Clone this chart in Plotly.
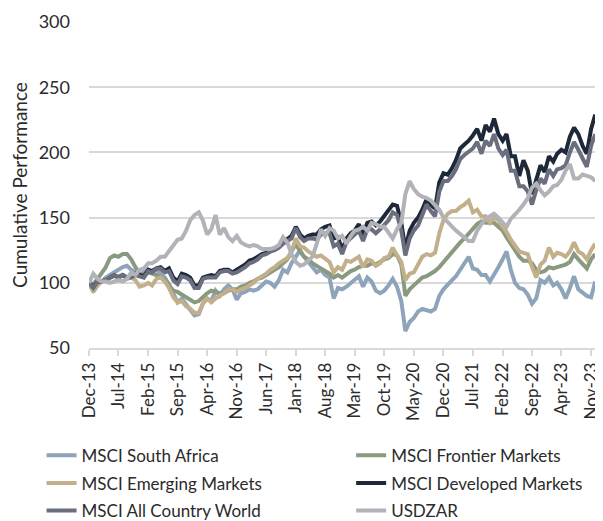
import pandas as pd
import plotly.graph_objects as go

dates = pd.date_range("2013-12-01", periods=121, freq="MS")

tick_labels = ["Dec-13", "Jul-14", "Feb-15", "Sep-15", "Apr-16", "Nov-16", "Jun-17", "Jan-18",
               "Aug-18", "Mar-19", "Oct-19", "May-20", "Dec-20", "Jul-21", "Feb-22", "Sep-22",
               "Apr-23", "Nov-23"]
tick_dates = pd.date_range("2013-12-01", periods=18, freq="7MS")

msci_sa = [100,
    93, 98, 101, 104, 106, 108, 110, 112, 113, 110, 108, 106,
    108, 110, 108, 110, 107, 104, 99, 92, 85, 88, 84, 79,
    75, 76, 84, 88, 86, 94, 90, 95, 98, 95, 87, 92,
    93, 95, 94, 95, 98, 101, 100, 97, 102, 110, 108, 115,
    120, 125, 120, 116, 112, 108, 110, 106, 104, 88, 96, 95,
    97, 100, 102, 105, 97, 104, 101, 94, 92, 94, 98, 103,
    97, 86, 63, 70, 73, 78, 80, 79, 78, 80, 90, 95,
    98, 102, 105, 110, 116, 120, 111, 110, 106, 106, 101, 106,
    112, 118, 124, 110, 100, 96, 95, 91, 84, 88, 102, 100,
    104, 98, 100, 95, 88, 96, 105, 95, 92, 90, 89, 101]

msci_fm = [100,
    99, 103, 107, 112, 119, 121, 120, 122, 122, 118, 112, 107,
    106, 108, 107, 106, 104, 102, 98, 94, 93, 91, 89, 87,
    85, 86, 89, 92, 94, 93, 92, 92, 94, 95, 95, 97,
    98, 100, 101, 103, 104, 106, 108, 110, 112, 115, 118, 124,
    130, 124, 120, 118, 115, 113, 111, 109, 107, 104, 106, 104,
    107, 109, 110, 112, 113, 113, 115, 114, 116, 118, 119, 122,
    121, 114, 90, 95, 98, 101, 104, 105, 107, 109, 112, 116,
    119, 124, 127, 131, 134, 138, 142, 145, 147, 146, 146, 146,
    143, 140, 135, 130, 126, 120, 117, 117, 115, 110, 108, 109,
    112, 111, 112, 113, 114, 116, 122, 118, 114, 111, 118, 122]

msci_em = [100,
    94, 98, 101, 102, 104, 105, 105, 106, 103, 104, 102, 97,
    98, 100, 98, 103, 104, 101, 96, 89, 85, 86, 82, 80,
    77, 77, 84, 88, 85, 88, 90, 92, 95, 95, 93, 95,
    96, 98, 100, 103, 105, 107, 110, 112, 115, 117, 119, 124,
    134, 128, 127, 124, 122, 120, 121, 118, 116, 108, 112, 110,
    117, 116, 118, 120, 112, 118, 117, 113, 115, 119, 120, 127,
    121, 116, 102, 107, 108, 114, 120, 122, 121, 123, 138, 148,
    153, 155, 155, 158, 160, 163, 154, 156, 151, 151, 146, 150,
    148, 143, 139, 133, 128, 124, 123, 122, 112, 104, 114, 117,
    127, 120, 123, 122, 120, 124, 131, 124, 122, 118, 125, 130]

msci_dm = [100,
    97, 101, 101, 102, 104, 106, 104, 106, 104, 105, 107, 106,
    105, 110, 109, 111, 112, 109, 111, 104, 101, 107, 106, 104,
    98, 98, 104, 105, 106, 105, 109, 110, 110, 108, 110, 112,
    114, 117, 118, 120, 122, 123, 125, 126, 128, 131, 134, 136,
    143, 137, 134, 136, 137, 137, 141, 143, 144, 134, 135, 125,
    134, 138, 140, 145, 137, 146, 147, 144, 147, 151, 155, 160,
    159, 146, 126, 140, 146, 150, 156, 164, 160, 157, 177, 184,
    183, 188, 194, 203, 206, 209, 213, 218, 209, 221, 216, 226,
    214, 209, 214, 197, 197, 182, 194, 186, 168, 180, 190, 185,
    197, 193, 199, 202, 200, 212, 219, 214, 205, 199, 218, 229]

msci_acwi = [100,
    96, 101, 101, 102, 104, 106, 104, 106, 104, 104, 106, 105,
    104, 109, 108, 111, 111, 108, 109, 102, 99, 105, 104, 102,
    96, 96, 103, 104, 104, 104, 108, 109, 109, 107, 108, 110,
    112, 115, 116, 118, 121, 122, 124, 125, 127, 130, 132, 134,
    142, 135, 132, 134, 134, 133, 137, 138, 138, 128, 130, 122,
    131, 134, 136, 140, 132, 141, 141, 138, 141, 145, 148, 154,
    152, 140, 121, 134, 140, 144, 151, 160, 155, 151, 170, 178,
    178, 182, 187, 195, 198, 201, 203, 208, 199, 209, 205, 214,
    203, 198, 202, 186, 186, 174, 174, 170, 160, 171, 180, 176,
    187, 182, 187, 188, 190, 200, 208, 202, 195, 189, 205, 214]

usdzar = [100,
    107, 103, 101, 101, 100, 101, 102, 101, 103, 108, 106, 110,
    111, 115, 115, 117, 120, 120, 124, 129, 133, 134, 140, 148,
    152, 154, 148, 137, 141, 152, 137, 142, 135, 132, 136, 131,
    129, 128, 129, 128, 126, 126, 126, 127, 129, 135, 131, 122,
    116, 113, 114, 117, 120, 130, 141, 136, 142, 140, 134, 136,
    130, 136, 140, 141, 143, 140, 146, 145, 143, 143, 139, 134,
    141, 146, 168, 178, 172, 168, 166, 165, 163, 160, 156, 150,
    147, 143, 140, 137, 135, 132, 132, 140, 145, 149, 151, 153,
    150, 146, 143, 149, 152, 156, 160, 165, 173, 176, 171, 167,
    170, 174, 175, 179, 186, 191, 180, 180, 183, 182, 181, 178]

series = [
    ("MSCI South Africa", msci_sa, "#8DA4BA", "legend"),
    ("MSCI Frontier Markets", msci_fm, "#899A7F", "legend2"),
    ("MSCI Emerging Markets", msci_em, "#C3AF8A", "legend"),
    ("MSCI Developed Markets", msci_dm, "#1D2838", "legend2"),
    ("MSCI All Country World", msci_acwi, "#6B6E7E", "legend"),
    ("USDZAR", usdzar, "#B2B2B9", "legend2"),
]

fig = go.Figure()
for name, vals, color, lg in series:
    fig.add_trace(go.Scatter(
        x=dates, y=vals, name=name, mode="lines",
        line=dict(color=color, width=4),
        legend=lg, legendgroup=name,
    ))

font_family = "Lato, 'Open Sans', sans-serif"
text_color = "#2b2b2b"

legend_common = dict(
    y=-0.275, xanchor="left", yanchor="top",
    orientation="v", font=dict(size=17, color=text_color),
    bgcolor="rgba(0,0,0,0)", traceorder="grouped", tracegroupgap=2.6,
)

# the page body keeps its default 8px margin, so the figure is 8px smaller
fig.update_layout(
    width=595, height=513,
    margin=dict(l=81, r=4, t=14, b=173, autoexpand=False),
    paper_bgcolor="white", plot_bgcolor="white",
    font=dict(family=font_family, color=text_color, size=17),
    showlegend=True,
    legend=dict(x=-0.093, **legend_common),
    legend2=dict(x=0.514, **legend_common),
    xaxis=dict(
        range=["2013-12-01", "2023-12-28"],
        tickmode="array", tickvals=tick_dates, ticktext=tick_labels,
        tickangle=-90, tickfont=dict(size=17, color=text_color),
        showgrid=False, showline=True, linecolor="#d9d9d9", linewidth=1.5,
        ticks="outside", ticklen=6, tickcolor="#d9d9d9", tickwidth=1.5,
        zeroline=False, automargin=False,
    ),
    yaxis=dict(
        range=[50, 300], tick0=50, dtick=50,
        tickfont=dict(size=18, color=text_color),
        showgrid=True, gridcolor="#d9d9d9", gridwidth=1.5,
        zeroline=False, showline=False, ticks="",
        ticklabelstandoff=18, automargin=False,
        title=dict(text="Cumulative Performance", font=dict(size=19, color=text_color), standoff=10),
    ),
)

fig.write_html("out.html")
